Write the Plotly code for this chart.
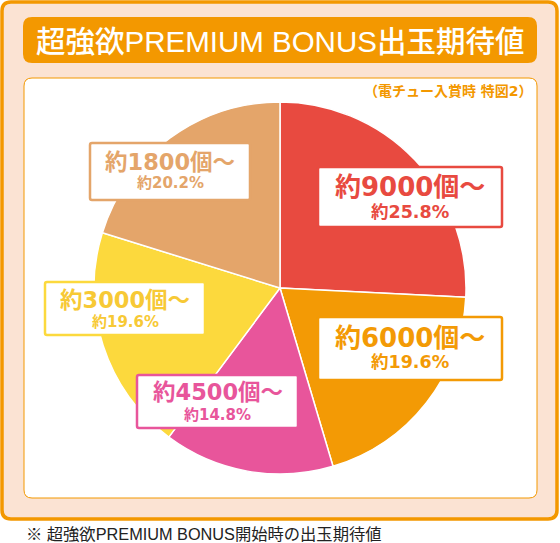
import plotly.graph_objects as go

# ---- data ----
categories = ["約9000個～", "約6000個～", "約4500個～", "約3000個～", "約1800個～"]
percent_values = [25.8, 19.6, 14.8, 19.6, 20.2]
percent_labels = ["約25.8%", "約19.6%", "約14.8%", "約19.6%", "約20.2%"]
title_text = "超強欲PREMIUM BONUS出玉期待値"
subtitle_text = "（電チュー入賞時 特図2）"
footer_text = "※ 超強欲PREMIUM BONUS開始時の出玉期待値"

# ---- styles ----
W, H = 560, 543
slice_colors = ["#e84a40", "#f39a05", "#e8559b", "#fcd93d", "#e4a56a"]
text_colors = ["#e84a40", "#f39a05", "#e8559b", "#f7c935", "#e4a56a"]
ORANGE = "#f39800"
PEACH = "#fbe3d3"
CJK = "Noto Sans CJK JP"
LABEL_FONT = "DejaVu Sans, " + CJK
SANS_FONT = "Liberation Sans, " + CJK

# label boxes (x0, y0, x1, y1), line centers, font sizes
label_boxes = [
    (318, 167, 502, 227, 187, 212, 26, 17.5),
    (318, 317, 502, 380, 338, 362, 26, 17.5),
    (137, 375, 298, 428, 392, 415, 22.5, 15),
    (45, 282, 205, 335, 300, 322, 22.5, 15),
    (90, 143, 250, 200, 162, 183, 22.5, 15),
]

cx, cy, R = 280, 288, 186


def rrect(x0, y0, x1, y1, r):
    return (f"M {x0+r},{y0} L {x1-r},{y0} Q {x1},{y0} {x1},{y0+r} "
            f"L {x1},{y1-r} Q {x1},{y1} {x1-r},{y1} L {x0+r},{y1} "
            f"Q {x0},{y1} {x0},{y1-r} L {x0},{y0+r} Q {x0},{y0} {x0+r},{y0} Z")


fig = go.Figure()

fig.add_trace(go.Pie(
    values=percent_values,
    labels=categories,
    sort=False,
    direction="clockwise",
    rotation=0,
    marker=dict(colors=slice_colors, line=dict(color="white", width=1.5)),
    textinfo="none",
    hoverinfo="skip",
    showlegend=False,
    domain=dict(x=[(cx - R) / W, (cx + R) / W],
                y=[(H - cy - R) / H, (H - cy + R) / H]),
))

shapes = [
    dict(type="path", path=rrect(2, 2, 557, 519, 9), fillcolor=PEACH,
         line=dict(color=ORANGE, width=3.5), layer="below", xref="x", yref="y"),
    dict(type="path", path=rrect(23, 17, 537, 63, 9), fillcolor=ORANGE,
         line=dict(width=0), layer="below", xref="x", yref="y"),
    dict(type="path", path=rrect(24, 78, 537, 498, 8), fillcolor="white",
         line=dict(color=ORANGE, width=1), layer="below", xref="x", yref="y"),
]

annotations = [
    dict(x=280, y=41, text=title_text, showarrow=False, xref="x", yref="y",
         xanchor="center", yanchor="middle",
         font=dict(family=SANS_FONT, size=29.5, color="white", weight=500)),
    dict(x=535, y=91, text=subtitle_text, showarrow=False, xref="x", yref="y",
         xanchor="right", yanchor="middle",
         font=dict(family=LABEL_FONT, size=14, color=ORANGE, weight=700)),
    dict(x=24, y=534, text=footer_text, showarrow=False, xref="x", yref="y",
         xanchor="left", yanchor="middle",
         font=dict(family=SANS_FONT, size=16.3, color="#222222", weight=400)),
]

for i, (x0, y0, x1, y1, l1, l2, s1, s2) in enumerate(label_boxes):
    shapes.append(dict(type="path", path=rrect(x0, y0, x1, y1, 2), fillcolor="white",
                       line=dict(color=slice_colors[i], width=2.5), layer="above",
                       xref="x", yref="y"))
    xc = (x0 + x1) / 2
    annotations.append(dict(x=xc, y=l1, text=categories[i], showarrow=False,
                            xref="x", yref="y", xanchor="center", yanchor="middle",
                            font=dict(family=LABEL_FONT, size=s1, color=text_colors[i], weight=700)))
    annotations.append(dict(x=xc, y=l2, text=percent_labels[i], showarrow=False,
                            xref="x", yref="y", xanchor="center", yanchor="middle",
                            font=dict(family=LABEL_FONT, size=s2, color=text_colors[i], weight=700)))

fig.update_layout(
    width=W, height=H,
    margin=dict(l=0, r=0, t=0, b=0),
    paper_bgcolor="white", plot_bgcolor="rgba(0,0,0,0)",
    xaxis=dict(range=[0, W], visible=False, fixedrange=True),
    yaxis=dict(range=[H, 0], visible=False, fixedrange=True),
    shapes=shapes,
    annotations=annotations,
    showlegend=False,
)

fig.write_html(
    "out.html",
    config={"displayModeBar": False},
    post_script="document.body.style.margin='0px';document.body.style.padding='0px';document.body.style.overflow='hidden';",
)
